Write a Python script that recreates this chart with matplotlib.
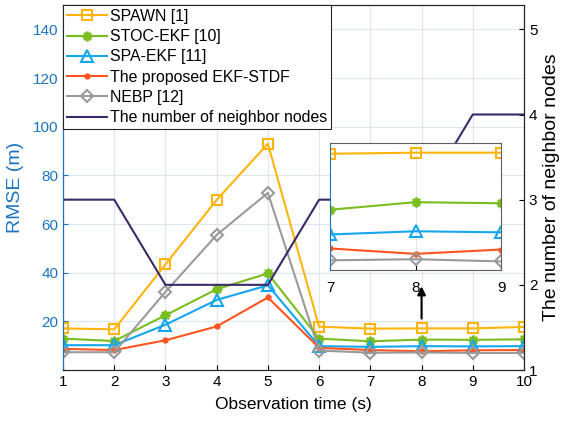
import matplotlib
matplotlib.use("Agg")
import matplotlib.pyplot as plt

plt.rcParams['font.family'] = ['Liberation Sans', 'DejaVu Sans']
plt.rcParams['font.size'] = 10

t = [1, 2, 3, 4, 5, 6, 7, 8, 9, 10]
spawn = [17.1, 16.7, 43.4, 69.9, 93.0, 17.8, 17.0, 17.1, 17.1, 17.7]
stoc = [12.9, 11.9, 22.5, 33.2, 39.7, 12.9, 11.8, 12.5, 12.4, 12.6]
spa = [10.2, 10.2, 18.6, 28.8, 34.8, 9.8, 9.5, 9.8, 9.7, 9.8]
prop = [8.7, 8.2, 12.2, 17.9, 29.8, 9.1, 8.2, 7.7, 8.1, 8.2]
nebp = [7.3, 7.3, 32.1, 55.5, 72.8, 8.0, 7.1, 7.2, 7.0, 7.0]
neighbors = [3, 3, 2, 2, 2, 3, 3, 3, 4, 4]

labels = ['SPAWN [1]', 'STOC-EKF [10]', 'SPA-EKF [11]',
          'The proposed EKF-STDF', 'NEBP [12]', 'The number of neighbor nodes']
c_yel = '#FFB40A'
c_grn = '#7ABD1E'
c_blu = '#15A6EE'
c_red = '#FF5420'
c_gry = '#9A9A9A'
c_pur = '#3A2A6A'
c_axis = '#1B74C0'

fig = plt.figure(figsize=(5.63, 4.21), dpi=100)
ax = fig.add_axes([63/563, 51/421, 461/563, 365/421])
ax2 = ax.twinx()

def draw_series(a):
    h = []
    h += a.plot(t, spawn, color=c_yel, lw=1.5, marker='s', ms=7, mfc='none', mew=1.5)
    h += a.plot(t, stoc, color=c_grn, lw=1.5, marker=(8, 2, 0), ms=7, mew=1.5)
    h += a.plot(t, spa, color=c_blu, lw=1.5, marker='^', ms=8, mfc='none', mew=1.5)
    h += a.plot(t, prop, color=c_red, lw=1.5, marker='.', ms=7)
    h += a.plot(t, nebp, color=c_gry, lw=1.5, marker='D', ms=6.5, mfc='none', mew=1.5)
    return h

handles = draw_series(ax)
handles += ax2.plot(t, neighbors, color=c_pur, lw=1.5)

ax.set_xlim(1, 10)
ax.set_ylim(0, 150)
ax.set_xticks(t)
ax.set_yticks([20, 40, 60, 80, 100, 120, 140])
ax2.set_ylim(1, 1 + 150 * 4 / 140)
ax2.set_yticks([1, 2, 3, 4, 5])
ax.grid(True, color='#DCE6EE', lw=0.8)
ax.set_axisbelow(True)

ax.set_xlabel('Observation time (s)', fontsize=12.5, labelpad=6)
ax.set_ylabel('RMSE (m)', color=c_axis, fontsize=14, labelpad=6)
ax2.set_ylabel('The number of neighbor nodes', fontsize=14, labelpad=4)
ax.tick_params(axis='y', colors=c_axis, direction='in', labelsize=11)
ax.tick_params(axis='x', direction='in', labelsize=11)
ax2.tick_params(axis='y', direction='in', labelsize=11)
ax2.spines['left'].set_color(c_axis)
for s in ['top', 'right', 'bottom']:
    ax2.spines[s].set_color('#262626')

ax2.annotate('', xy=(8, 35.5), xytext=(8, 20), xycoords=ax.transData,
             textcoords=ax.transData,
             arrowprops=dict(arrowstyle='-|>', color='black', lw=1.5, mutation_scale=12))

leg = ax2.legend(handles, labels, loc='upper left', fontsize=11.4,
                 bbox_to_anchor=(0.0, 1.0), borderaxespad=0.0, fancybox=False,
                 framealpha=1, edgecolor='#262626', handlelength=2.5,
                 labelspacing=0.33, borderpad=0.25, handletextpad=0.2)
leg.get_frame().set_linewidth(0.8)

# zoomed inset
ins = fig.add_axes([330/563, 151/421, 171/563, 127/421])
draw_series(ins)
ins.set_xlim(7, 9)
ins.set_ylim(6.2, 18)
ins.set_xticks([7, 8, 9])
ins.set_yticks([])
ins.grid(True, axis='x', color='#DCE6EE', lw=0.8)
ins.tick_params(axis='x', direction='in', labelsize=11, pad=8)
ins.spines['left'].set_color(c_axis)
for s in ['top', 'right', 'bottom']:
    ins.spines[s].set_color('#606060')

fig.savefig('out.png', dpi=100)
